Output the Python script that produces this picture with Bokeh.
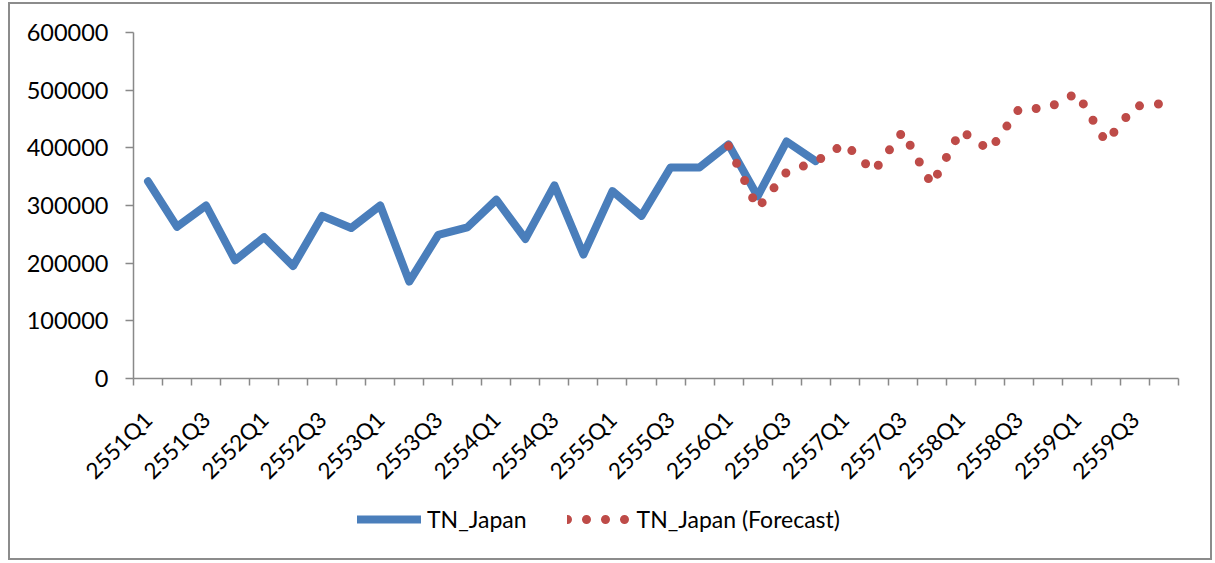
from bokeh.plotting import figure
from bokeh.models import (ColumnDataSource, FixedTicker, NumeralTickFormatter,
                          Range1d, Legend, LegendItem)
from bokeh.embed import file_html
from bokeh.resources import INLINE
from math import pi

# Quarterly arrivals (Thai Buddhist-era years)
quarters = [
    "2551Q1", "2551Q2", "2551Q3", "2551Q4",
    "2552Q1", "2552Q2", "2552Q3", "2552Q4",
    "2553Q1", "2553Q2", "2553Q3", "2553Q4",
    "2554Q1", "2554Q2", "2554Q3", "2554Q4",
    "2555Q1", "2555Q2", "2555Q3", "2555Q4",
    "2556Q1", "2556Q2", "2556Q3", "2556Q4",
    "2557Q1", "2557Q2", "2557Q3", "2557Q4",
    "2558Q1", "2558Q2", "2558Q3", "2558Q4",
    "2559Q1", "2559Q2", "2559Q3", "2559Q4",
]

tn_japan = [
    342000, 263000, 300000, 205000,
    245000, 195000, 282000, 261000,
    300000, 168000, 249000, 262000,
    310000, 242000, 335000, 215000,
    325000, 282000, 366000, 366000,
    406000, 316000, 411000, 377000,
]

forecast_start = "2556Q1"
tn_japan_forecast = [
    403000, 295000, 358000, 376000,
    407000, 359000, 428000, 336000,
    430000, 396000, 467000, 469000,
    495000, 410000, 472000, 477000,
]

y_ticks = [0, 100000, 200000, 300000, 400000, 500000, 600000]
y_max = 600000

FONT = "Lato"
AXIS_GREY = "#898989"
BLUE = "#4A7EBB"
RED = "#BE4B48"

n = len(quarters)

# Chart area (inside the grey border) and the plot box within it, in pixels.
W, H = 1200, 554
PLOT_L, PLOT_R = 123, 1168      # value axis / right end of category axis
PLOT_T, PLOT_B = 28, 374        # top of value axis / category axis
px_x = (PLOT_R - PLOT_L) / n
px_y = (PLOT_B - PLOT_T) / y_max
x_rng = Range1d(-PLOT_L / px_x, n + (W - PLOT_R) / px_x)
y_rng = Range1d(-(H - PLOT_B) / px_y, y_max + PLOT_T / px_y)

# Category slots: quarter k occupies [k, k+1] on the x scale, drawn at its centre
x_actual = [i + 0.5 for i in range(len(tn_japan))]
f0 = quarters.index(forecast_start)
x_forecast = [f0 + i + 0.5 for i in range(len(tn_japan_forecast))]

src_actual = ColumnDataSource(dict(x=x_actual, y=tn_japan))
src_forecast = ColumnDataSource(dict(x=x_forecast, y=tn_japan_forecast))

p = figure(
    frame_width=W, frame_height=H,
    min_border_left=0, min_border_right=0, min_border_top=0, min_border_bottom=0,
    x_range=x_rng, y_range=y_rng,
    output_backend="svg", toolbar_location=None,
    styles={"border": "2px solid #8c8c8c", "margin-left": "8px", "margin-top": "2px"},
)
p.background_fill_color = "white"
p.border_fill_color = "white"
p.outline_line_color = None
p.xgrid.visible = False
p.ygrid.visible = False

r_actual = p.line("x", "y", source=src_actual, line_color=BLUE, line_width=8,
                  line_join="round", line_cap="round")
r_fc = p.line("x", "y", source=src_forecast, line_color=RED, line_width=9,
              line_dash="0 19", line_cap="round", line_join="round")

# value axis, pinned at x = 0
ya = p.yaxis[0]
ya.fixed_location = 0
ya.bounds = (0, y_max)
ya.ticker = FixedTicker(ticks=y_ticks, minor_ticks=[])
ya.formatter = NumeralTickFormatter(format="0")
ya.axis_line_color = AXIS_GREY
ya.axis_line_width = 1.5
ya.major_tick_line_color = AXIS_GREY
ya.major_tick_line_width = 1.5
ya.major_tick_out = 8
ya.major_tick_in = 0
ya.minor_tick_line_color = None
ya.major_label_standoff = 17
ya.major_label_text_font = FONT
ya.major_label_text_font_size = "23.5px"
ya.major_label_text_color = "black"

# category axis pinned at y = 0: labels on every other quarter, tick marks on
# slot boundaries
label_idx = list(range(0, n, 2))
label_pos = [i + 0.5 for i in label_idx]
xa = p.xaxis[0]
xa.fixed_location = 0
xa.bounds = (0, n)
xa.ticker = FixedTicker(ticks=label_pos, minor_ticks=list(range(n + 1)))
xa.major_label_overrides = {pos: quarters[i] for pos, i in zip(label_pos, label_idx)}
xa.axis_line_color = AXIS_GREY
xa.axis_line_width = 1.5
xa.major_tick_line_color = None
xa.major_tick_out = 0
xa.major_tick_in = 0
xa.minor_tick_line_color = AXIS_GREY
xa.minor_tick_line_width = 1.5
xa.minor_tick_out = 7
xa.minor_tick_in = 0
xa.major_label_orientation = pi / 4
xa.major_label_standoff = 30
xa.major_label_text_font = FONT
xa.major_label_text_font_size = "22.5px"
xa.major_label_text_color = "black"

legend = Legend(
    items=[LegendItem(label="TN_Japan", renderers=[r_actual]),
           LegendItem(label="TN_Japan (Forecast)", renderers=[r_fc])],
    orientation="horizontal",
    location=(347, 25),
    glyph_width=64, glyph_height=24, label_height=24,
    label_standoff=6, spacing=40, padding=0, margin=0,
    border_line_color=None, background_fill_alpha=0,
    label_text_font=FONT, label_text_font_size="23px", label_text_color="black",
)
p.add_layout(legend, "center")

open("out.html", "w").write(file_html(p, INLINE))
